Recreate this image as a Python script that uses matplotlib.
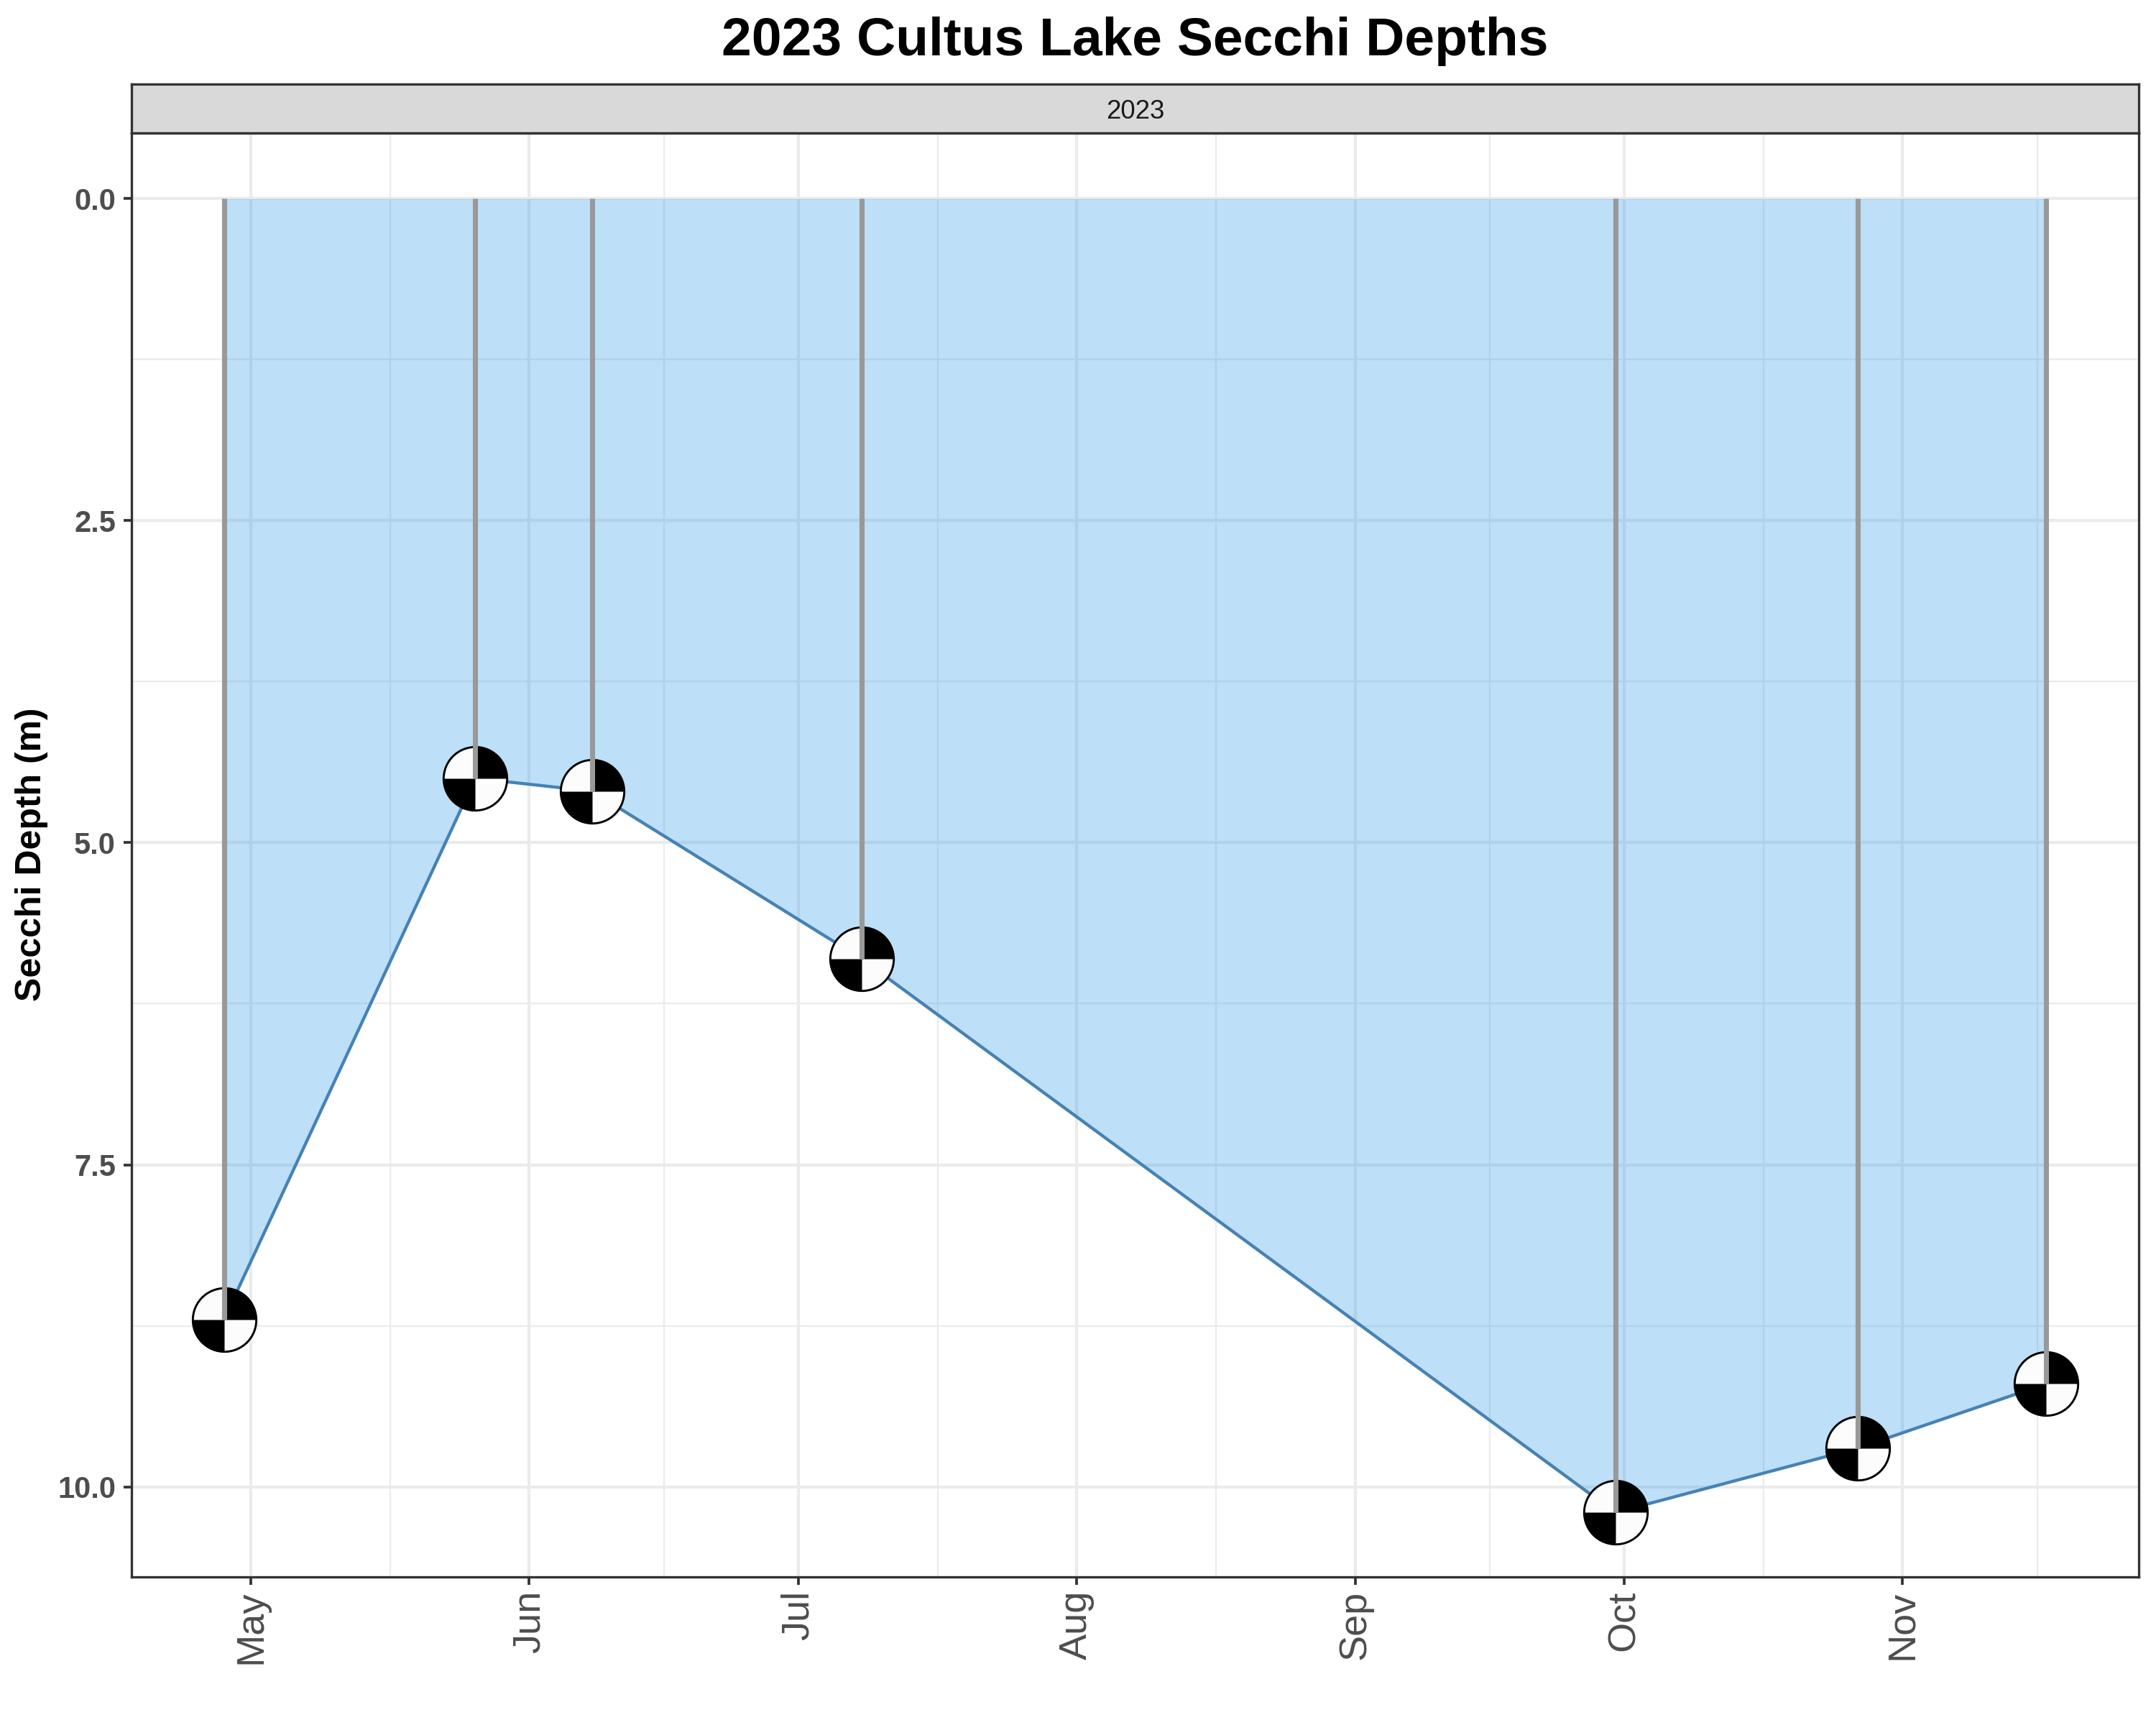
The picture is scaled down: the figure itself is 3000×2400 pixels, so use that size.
import numpy as np
import pandas as pd
import matplotlib
matplotlib.use("Agg")
import matplotlib.pyplot as plt
import matplotlib.dates as mdates
from matplotlib.path import Path

plt.rcParams["font.family"] = ["Liberation Sans", "DejaVu Sans"]

# data
dates = pd.to_datetime(["2023-04-28", "2023-05-26", "2023-06-08", "2023-07-08",
                        "2023-09-30", "2023-10-27", "2023-11-17"])
depths = [8.7, 4.5, 4.6, 5.9, 10.2, 9.7, 9.2]

month_breaks = pd.to_datetime(["2023-05-01", "2023-06-01", "2023-07-01", "2023-08-01",
                               "2023-09-01", "2023-10-01", "2023-11-01"])
month_labels = ["May", "Jun", "Jul", "Aug", "Sep", "Oct", "Nov"]
minor_breaks = pd.to_datetime(["2023-05-16 12:00", "2023-06-16 00:00", "2023-07-16 12:00",
                               "2023-08-16 12:00", "2023-09-16 00:00", "2023-10-16 12:00",
                               "2023-11-16 00:00"])
y_major = [0.0, 2.5, 5.0, 7.5, 10.0]
y_minor = [1.25, 3.75, 6.25, 8.75]

W, H = 3000, 2400
left, right, top, strip_top, bottom = 183, 2976, 185, 117, 2194
border = "#333333"
x = mdates.date2num(dates)

fig = plt.figure(figsize=(10, 8), dpi=300)
ax = fig.add_axes([left / W, 1 - bottom / H, (right - left) / W, (bottom - top) / H])

# grid
ax.set_axisbelow(True)
ax.grid(which="major", color="#EBEBEB", lw=1.0)
ax.grid(which="minor", color="#EBEBEB", lw=0.55)

# ribbon + line
ax.fill_between(x, 0, depths, color="#2A96E8", alpha=0.3, lw=0, zorder=2)
ax.plot(x, depths, color="#4682B4", lw=1.05, zorder=3)

# secchi disks
ax.plot(x, depths, ls="none", marker="o", ms=21.2, mfc="#FCFCFC", mec="black", mew=0.7, zorder=4)
ax.plot(x, depths, ls="none", marker=Path.wedge(0, 90), ms=21.2, mfc="black", mew=0, zorder=5)
ax.plot(x, depths, ls="none", marker=Path.wedge(180, 270), ms=21.2, mfc="black", mew=0, zorder=5)

# drop lines
ax.vlines(x, 0, depths, color="#999999", lw=1.7, zorder=6)

ax.set_xlim(mdates.date2num(pd.Timestamp("2023-05-01")) - 13.3,
            mdates.date2num(pd.Timestamp("2023-05-01")) + 210.3)
ax.set_ylim(10.70, -0.51)

ax.set_xticks(mdates.date2num(month_breaks))
ax.set_xticklabels(month_labels, rotation=90, fontsize=13, color="#4D4D4D")
ax.set_xticks(mdates.date2num(minor_breaks), minor=True)
ax.set_yticks(y_major)
ax.set_yticklabels([f"{v:.1f}" for v in y_major], fontsize=10, fontweight="bold", color="#4D4D4D")
ax.set_yticks(y_minor, minor=True)
ax.tick_params(which="major", length=2.7, width=0.9, color=border, pad=2.6)
ax.tick_params(axis="x", which="major", pad=1.8)
ax.tick_params(which="minor", length=0)

for s in ax.spines.values():
    s.set_color(border)
    s.set_linewidth(0.8)

# facet strip
strip = fig.add_axes([left / W, 1 - top / H, (right - left) / W, (top - strip_top) / H])
strip.set_facecolor("#D9D9D9")
strip.set_xticks([])
strip.set_yticks([])
for s in strip.spines.values():
    s.set_color(border)
    s.set_linewidth(0.8)
strip.text(0.5, 0.44, "2023", ha="center", va="center", fontsize=8.8, color="#1A1A1A",
           transform=strip.transAxes)

fig.text((left + right) / 2 / W, 1 - 58 / H, "2023 Cultus Lake Secchi Depths", ha="center",
         va="center", fontsize=18, fontweight="bold")
fig.text(44 / W, 1 - 1189 / H, "Secchi Depth (m)", rotation=90, ha="center", va="center",
         fontsize=12, fontweight="bold")

fig.savefig("out.png", dpi=300)
